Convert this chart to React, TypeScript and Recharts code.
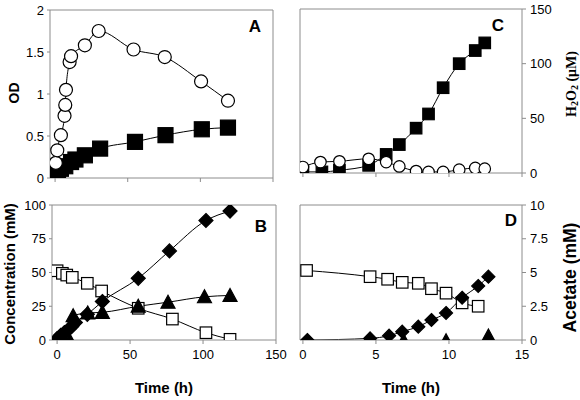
import React from 'react';
import { LineChart, Line, XAxis, YAxis, ReferenceLine } from 'recharts';

type Pt = [number, number];

// A: optical density, time in h
const odOpen: Pt[] = [
  [0.5, 0.18], [1.5, 0.33], [4, 0.51], [6.5, 0.74], [7, 0.87], [7.5, 1.05], [10, 1.38],
  [11, 1.45], [20.5, 1.58], [30, 1.75], [54, 1.53], [75.5, 1.44], [100.5, 1.15], [119, 0.92],
];
const odFilled: Pt[] = [
  [0, 0.03], [2, 0.07], [4, 0.11], [7, 0.14], [11, 0.19], [14, 0.22], [20.5, 0.27],
  [31, 0.35], [55, 0.43], [76, 0.51], [101, 0.58], [119, 0.6],
];

// B: concentration (mM)
const concSquares: Pt[] = [
  [0, 51.3], [3.6, 49.4], [6.6, 48.1], [10.4, 46.4], [20.7, 42], [30.5, 36.3],
  [55.6, 23.5], [79, 15.5], [102, 5.4], [118.5, 0.5],
];
const concDiamonds: Pt[] = [
  [0, 1], [2.5, 3.5], [5, 5.5], [8, 8], [10, 10], [12.5, 13], [20.7, 19], [31, 28.5],
  [55.6, 45.7], [77, 66], [102, 88.5], [118.5, 95.5],
];
const concTriangles: Pt[] = [
  [0, 0], [2, 0], [5, 0], [8.5, 0], [11, 18], [21, 20], [31, 20.5], [55.6, 25],
  [76, 28], [101, 32], [118.5, 33],
];

// C: H2O2 (uM)
const h2o2Filled: Pt[] = [
  [0, 1], [1.3, 1], [2.5, 2.5], [4.5, 7], [5.7, 17], [6.6, 26], [7.75, 41], [8.6, 54],
  [9.6, 78], [10.7, 100], [11.8, 112], [12.45, 119],
];
const h2o2Open: Pt[] = [
  [0, 5.5], [1.2, 10], [2.5, 10.7], [4.5, 13], [5.7, 10], [6.6, 6], [7.75, 1.8], [8.6, 1],
  [9.6, 1], [10.7, 3], [11.8, 4.6], [12.45, 4],
];

// D: acetate (mM)
const acetSquares: Pt[] = [
  [0.25, 5.15], [4.6, 4.69], [5.8, 4.5], [6.8, 4.27], [7.9, 4.2], [8.8, 3.8], [9.8, 3.47],
  [10.9, 2.75], [12, 2.5],
];
const acetDiamonds: Pt[] = [
  [0.3, 0], [4.6, 0.12], [5.9, 0.32], [6.8, 0.62], [7.9, 0.99], [8.8, 1.48], [9.8, 2],
  [10.9, 3.13], [12, 4], [12.7, 4.69],
];
const acetTriangles: Pt[] = [[4.6, 0], [6.9, 0], [9.8, 0], [12.7, 0.35]];

const hoursTicks = [0, 50, 100, 150];
const odTicks = [0, 0.5, 1, 1.5, 2];
const concTicks = [0, 25, 50, 75, 100];
const shortHoursTicks = [0, 5, 10, 15];
const h2o2Ticks = [0, 50, 100, 150];
const acetTicks = [0, 2.5, 5, 7.5, 10];

const hoursDomain: [number, number] = [-3.5, 150];
const shortHoursDomain: [number, number] = [-0.2, 15];

const SANS = '"Liberation Sans", Arial, sans-serif';
const SERIF = '"Liberation Serif", "Times New Roman", serif';
const GREY = '#8c8c8c';
const tickStyle = { fontSize: 13, fill: '#000', fontFamily: SANS };
const frame = { stroke: GREY };

const rows = (pts: Pt[]) => pts.map(([x, y]) => ({ x, y }));

type Kind = 'circle' | 'square' | 'diamond' | 'triangle';

const marker = (kind: Kind, size: number, filled: boolean) => (p: any) => {
  const { cx, cy, index } = p;
  if (cx == null || cy == null) return <g key={index} />;
  const h = size / 2;
  const look = { fill: filled ? '#000' : '#fff', stroke: '#000', strokeWidth: 1.2 };
  if (kind === 'circle') return <circle key={index} cx={cx} cy={cy} r={h} {...look} />;
  if (kind === 'square')
    return <rect key={index} x={cx - h} y={cy - h} width={size} height={size} {...look} />;
  if (kind === 'diamond')
    return (
      <polygon key={index} points={`${cx},${cy - h} ${cx + h},${cy} ${cx},${cy + h} ${cx - h},${cy}`} {...look} />
    );
  return (
    <polygon key={index} points={`${cx},${cy - h} ${cx + h},${cy + h * 0.85} ${cx - h},${cy + h * 0.85}`} {...look} />
  );
};

const series = (name: string, pts: Pt[], dot: any, joined = true) => (
  <Line
    key={name}
    name={name}
    data={rows(pts)}
    dataKey="y"
    type="monotone"
    stroke={joined ? '#000' : 'none'}
    strokeWidth={1}
    dot={dot}
    activeDot={false}
    isAnimationActive={false}
  />
);

// rotated axis title, placed relative to the axis box
const sideTitle =
  (text: React.ReactNode, dx: number, dy: number, size: number, family = SANS) =>
  (props: any) => {
    const vb = props.viewBox || { x: 0, y: 0, width: 0, height: 0 };
    const x = vb.x + dx;
    const y = vb.y + vb.height / 2 + dy;
    return (
      <text
        x={x}
        y={y}
        transform={`rotate(-90 ${x} ${y})`}
        textAnchor="middle"
        dominantBaseline="central"
        fontSize={size}
        fontWeight="bold"
        fontFamily={family}
        fill="#000"
      >
        {text}
      </text>
    );
  };

const timeLabel = {
  value: 'Time (h)',
  position: 'insideBottom' as const,
  offset: 7,
  style: { fontSize: 15, fontWeight: 'bold', fill: '#000', fontFamily: SANS },
};

const h2o2Text = (
  <>
    <tspan>H</tspan>
    <tspan fontSize={10} dy={3}>2</tspan>
    <tspan dy={-3}>O</tspan>
    <tspan fontSize={10} dy={3}>2</tspan>
    <tspan dy={-3}> (μM)</tspan>
  </>
);

const panelLetter = (letter: string, left: number, top: number) => (
  <div
    style={{
      position: 'absolute',
      left,
      top,
      transform: 'translate(-50%, -50%)',
      fontFamily: SANS,
      fontWeight: 'bold',
      fontSize: 17,
      lineHeight: 1,
    }}
  >
    {letter}
  </div>
);

const box = (left: number, top: number): React.CSSProperties => ({ position: 'absolute', left, top });

export default function App() {
  return (
    <div style={{ position: 'absolute', left: 0, top: 0, width: 580, height: 400, background: '#fff' }}>
      {/* A */}
      <div style={box(0, 0)}>
        <LineChart width={290} height={195} margin={{ top: 10, right: 17, bottom: 7, left: 0 }}>
          <XAxis
            type="number"
            dataKey="x"
            domain={hoursDomain}
            allowDataOverflow
            ticks={hoursTicks}
            tickFormatter={() => ''}
            height={10}
            tickSize={4}
            axisLine={frame}
            tickLine={frame}
          />
          <YAxis
            type="number"
            domain={[0, 2]}
            allowDataOverflow
            ticks={odTicks}
            width={50}
            tickSize={3}
            tickMargin={3}
            tick={tickStyle}
            axisLine={frame}
            tickLine={frame}
            label={sideTitle('OD', 14, -1, 14)}
          />
          <ReferenceLine y={2} stroke={GREY} />
          <ReferenceLine x={150} stroke={GREY} />
          {series('od-filled', odFilled, marker('square', 15, true))}
          {series('od-open', odOpen, marker('circle', 13, false))}
        </LineChart>
      </div>

      {/* B */}
      <div style={box(0, 195)}>
        <LineChart width={290} height={205} margin={{ top: 10, right: 14, bottom: 0, left: 0 }}>
          <XAxis
            type="number"
            dataKey="x"
            domain={hoursDomain}
            allowDataOverflow
            ticks={hoursTicks}
            height={60}
            tickSize={4}
            tickMargin={6}
            tick={tickStyle}
            axisLine={frame}
            tickLine={frame}
            label={timeLabel}
          />
          <YAxis
            type="number"
            domain={[0, 100]}
            allowDataOverflow
            ticks={concTicks}
            width={52}
            tickSize={3}
            tickMargin={3}
            tick={tickStyle}
            axisLine={frame}
            tickLine={frame}
            label={sideTitle('Concentration (mM)', 9, 1.5, 15)}
          />
          <ReferenceLine y={100} stroke={GREY} />
          <ReferenceLine x={150} stroke={GREY} />
          {series('conc-squares', concSquares, marker('square', 11.5, false))}
          {series('conc-diamonds', concDiamonds, marker('diamond', 14, true))}
          {series('conc-triangles', concTriangles, marker('triangle', 14, true))}
        </LineChart>
      </div>

      {/* C */}
      <div style={box(290, 0)}>
        <LineChart width={290} height={195} margin={{ top: 9, right: 0, bottom: 12, left: 10 }}>
          <XAxis
            type="number"
            dataKey="x"
            domain={shortHoursDomain}
            allowDataOverflow
            ticks={shortHoursTicks}
            tickFormatter={() => ''}
            height={10}
            tickSize={4}
            axisLine={frame}
            tickLine={frame}
          />
          <YAxis
            orientation="right"
            type="number"
            domain={[0, 150]}
            allowDataOverflow
            ticks={h2o2Ticks}
            width={58}
            tickSize={4}
            tickMargin={4}
            tick={tickStyle}
            axisLine={frame}
            tickLine={frame}
            label={sideTitle(h2o2Text, 49, -7, 14, SERIF)}
          />
          <ReferenceLine y={150} stroke={GREY} />
          <ReferenceLine x={shortHoursDomain[0]} stroke={GREY} />
          {series('h2o2-filled', h2o2Filled, marker('square', 11.5, true))}
          {series('h2o2-open', h2o2Open, marker('circle', 11.5, false))}
        </LineChart>
      </div>

      {/* D */}
      <div style={box(290, 195)}>
        <LineChart width={290} height={205} margin={{ top: 10, right: 0, bottom: 0, left: 10 }}>
          <XAxis
            type="number"
            dataKey="x"
            domain={shortHoursDomain}
            allowDataOverflow
            ticks={shortHoursTicks}
            height={60}
            tickSize={4}
            tickMargin={6}
            tick={tickStyle}
            axisLine={frame}
            tickLine={frame}
            label={timeLabel}
          />
          <YAxis
            orientation="right"
            type="number"
            domain={[0, 10]}
            allowDataOverflow
            ticks={acetTicks}
            width={58}
            tickSize={4}
            tickMargin={4}
            tick={tickStyle}
            axisLine={frame}
            tickLine={frame}
            label={sideTitle('Acetate (mM)', 48, 5, 17.5)}
          />
          <ReferenceLine y={10} stroke={GREY} />
          <ReferenceLine x={shortHoursDomain[0]} stroke={GREY} />
          {series('acet-squares', acetSquares, marker('square', 11.5, false))}
          {series('acet-diamonds', acetDiamonds, marker('diamond', 13, true))}
          {series('acet-triangles', acetTriangles, marker('triangle', 12.5, true), false)}
        </LineChart>
      </div>

      {panelLetter('A', 255, 26)}
      {panelLetter('B', 261, 226)}
      {panelLetter('C', 498, 25)}
      {panelLetter('D', 511, 220)}
    </div>
  );
}
